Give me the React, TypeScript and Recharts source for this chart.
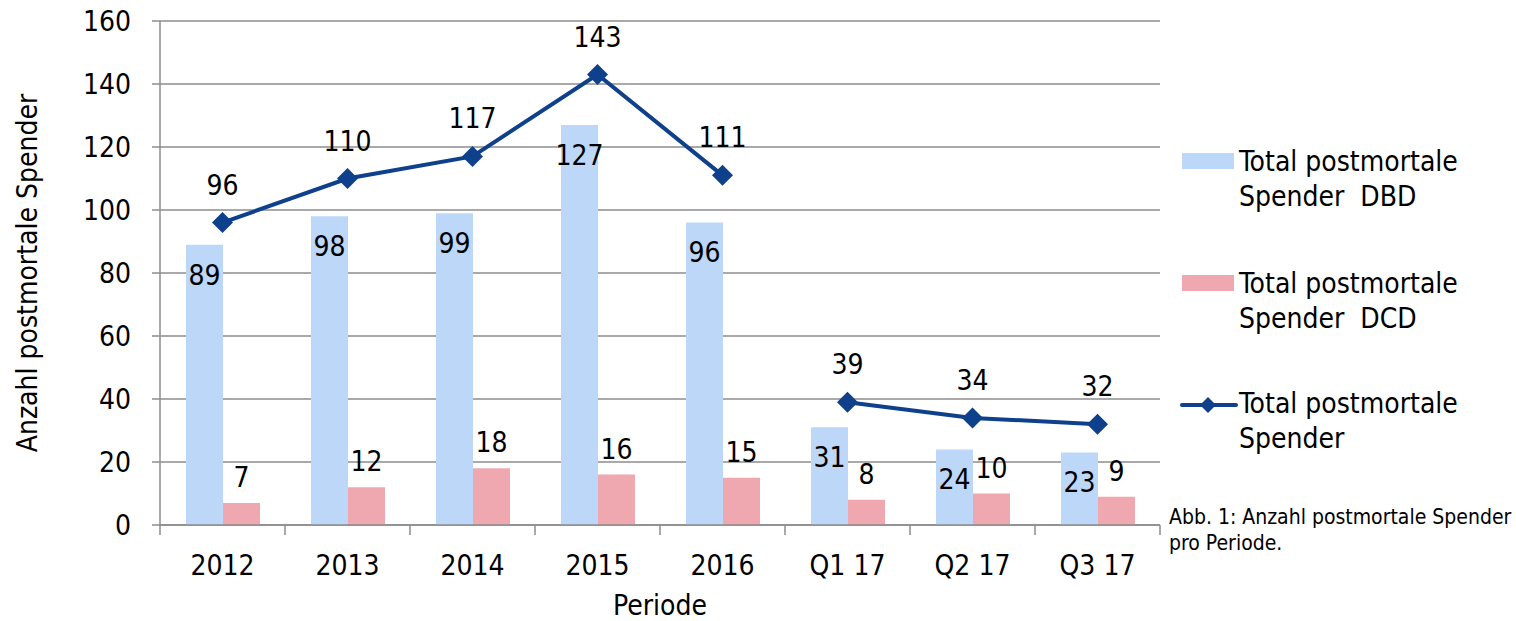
import { Bar, CartesianGrid, ComposedChart, LabelList, Legend, Line, XAxis, YAxis } from 'recharts'

const periods = ['2012', '2013', '2014', '2015', '2016', 'Q1 17', 'Q2 17', 'Q3 17']
const dbdDonors = [89, 98, 99, 127, 96, 31, 24, 23]
const dcdDonors = [7, 12, 18, 16, 15, 8, 10, 9]
// yearly and quarterly totals are drawn as two separate lines (no link between 2016 and Q1 17)
const totalYearly = [96, 110, 117, 143, 111, null, null, null]
const totalQuarterly = [null, null, null, null, null, 39, 34, 32]
const yTicks = [0, 20, 40, 60, 80, 100, 120, 140, 160]

const seriesNames = {
  dbd: 'Total postmortale Spender  DBD',
  dcd: 'Total postmortale Spender  DCD',
  total: 'Total postmortale Spender',
}
const legendOrder = [seriesNames.dbd, seriesNames.dcd, seriesNames.total]

const BLUE_BAR = '#bdd7f8'
const PINK_BAR = '#efa8b0'
const LINE_BLUE = '#0e408c'
const GRID = '#8c8c8c'
const FONT = '"DejaVu Sans Condensed", "DejaVu Sans", sans-serif'

const PLOT_WIDTH = 1000
const BAND = PLOT_WIDTH / periods.length

const data = periods.map((p, i) => ({
  period: p,
  dbd: dbdDonors[i],
  dcd: dcdDonors[i],
  totalYear: totalYearly[i],
  totalQuarter: totalQuarterly[i],
}))

function Diamond(props: any) {
  const { cx, cy, value, index } = props
  if (cx == null || cy == null || value == null) return <g key={`d-${index}`} />
  const r = 10.5
  return (
    <path
      key={`d-${index}`}
      d={`M${cx},${cy - r} L${cx + r},${cy} L${cx},${cy + r} L${cx - r},${cy} Z`}
      fill={LINE_BLUE}
    />
  )
}

function PeriodTick(props: any) {
  const { x, y, payload, index } = props
  const half = BAND / 2
  return (
    <g>
      <line x1={x - half} x2={x - half} y1={y} y2={y + 10} stroke={GRID} strokeWidth={1.5} />
      {index === periods.length - 1 && (
        <line x1={x + half} x2={x + half} y1={y} y2={y + 10} stroke={GRID} strokeWidth={1.5} />
      )}
      <text x={x} y={y + 50} textAnchor="middle" fontSize={28} fill="#000">
        {payload.value}
      </text>
    </g>
  )
}

function YTitle() {
  return (
    <text
      x={37}
      y={273}
      transform="rotate(-90, 37, 273)"
      textAnchor="middle"
      fontSize={28}
      fill="#000"
    >
      Anzahl postmortale Spender
    </text>
  )
}

function LegendIcon({ kind, color }: { kind: string; color: string }) {
  if (kind === 'line') {
    return (
      <svg width={58} height={38} style={{ display: 'block' }}>
        <line x1={2} x2={56} y1={19} y2={19} stroke={color} strokeWidth={4} strokeLinecap="round" />
        <path d="M28,11 L36,19 L28,27 L20,19 Z" fill={color} />
      </svg>
    )
  }
  return (
    <div style={{ marginLeft: 2, marginTop: 9, width: 52, height: 16, background: color }} />
  )
}

function LegendBox(props: any) {
  const items = (props.payload ?? [])
    .filter((p: any) => p.type !== 'none')
    .sort((a: any, b: any) => legendOrder.indexOf(a.value) - legendOrder.indexOf(b.value))
  return (
    <div style={{ fontFamily: FONT, fontSize: 28, lineHeight: '35px', color: '#000' }}>
      {items.map((item: any, i: number) => (
        <div key={item.value} style={{ display: 'flex', marginBottom: i === 0 ? 52 : 50 }}>
          <div style={{ width: 59, flex: 'none' }}>
            <LegendIcon kind={item.type === 'line' ? 'line' : 'rect'} color={item.color} />
          </div>
          <div style={{ width: 270, whiteSpace: 'pre-wrap' }}>{item.value}</div>
        </div>
      ))}
    </div>
  )
}

export default function App() {
  return (
    <div style={{ position: 'absolute', left: 0, top: 0, width: 1516, height: 621, background: '#fff', fontFamily: FONT }}>
      <ComposedChart
        width={1516}
        height={621}
        data={data}
        margin={{ top: 21, right: 356, bottom: 6, left: 80 }}
        barCategoryGap={26}
        barGap={0}
      >
        <CartesianGrid vertical={false} stroke={GRID} strokeWidth={1.5} />
        <XAxis
          dataKey="period"
          height={90}
          axisLine={{ stroke: GRID, strokeWidth: 1.5 }}
          tickLine={false}
          tickSize={0}
          tickMargin={0}
          interval={0}
          tick={<PeriodTick />}
          label={{ value: 'Periode', position: 'insideBottom', offset: 0, fontSize: 28, fill: '#000' }}
        />
        <YAxis
          width={80}
          domain={[0, 160]}
          ticks={yTicks}
          interval={0}
          axisLine={{ stroke: GRID, strokeWidth: 1.5 }}
          tickLine={{ stroke: GRID, strokeWidth: 1.5 }}
          tickSize={8}
          tickMargin={21}
          tick={{ fill: '#000', fontSize: 28 }}
          label={{ content: () => <YTitle /> }}
        />
        <Legend
          layout="horizontal"
          verticalAlign="middle"
          wrapperStyle={{ left: 1180, top: 144, width: 336 }}
          content={<LegendBox />}
        />
        <Bar dataKey="dbd" name={seriesNames.dbd} fill={BLUE_BAR} isAnimationActive={false}>
          <LabelList dataKey="dbd" position="insideTop" offset={20} fill="#000" fontSize={28} />
        </Bar>
        <Bar dataKey="dcd" name={seriesNames.dcd} fill={PINK_BAR} isAnimationActive={false}>
          <LabelList dataKey="dcd" position="top" offset={16} fill="#000" fontSize={28} />
        </Bar>
        <Line
          dataKey="totalYear"
          name={seriesNames.total}
          stroke={LINE_BLUE}
          strokeWidth={4}
          dot={Diamond}
          activeDot={false}
          connectNulls={false}
          isAnimationActive={false}
        >
          <LabelList dataKey="totalYear" position="top" offset={28} fill="#000" fontSize={28} />
        </Line>
        <Line
          dataKey="totalQuarter"
          name="totalQuarter"
          legendType="none"
          stroke={LINE_BLUE}
          strokeWidth={4}
          dot={Diamond}
          activeDot={false}
          connectNulls={false}
          isAnimationActive={false}
        >
          <LabelList dataKey="totalQuarter" position="top" offset={28} fill="#000" fontSize={28} />
        </Line>
      </ComposedChart>
      <div
        style={{
          position: 'absolute',
          left: 1169,
          top: 504,
          fontSize: 21,
          lineHeight: '26px',
          color: '#000',
          whiteSpace: 'nowrap',
        }}
      >
        Abb. 1: Anzahl postmortale Spender
        <br />
        pro Periode.
      </div>
    </div>
  )
}
